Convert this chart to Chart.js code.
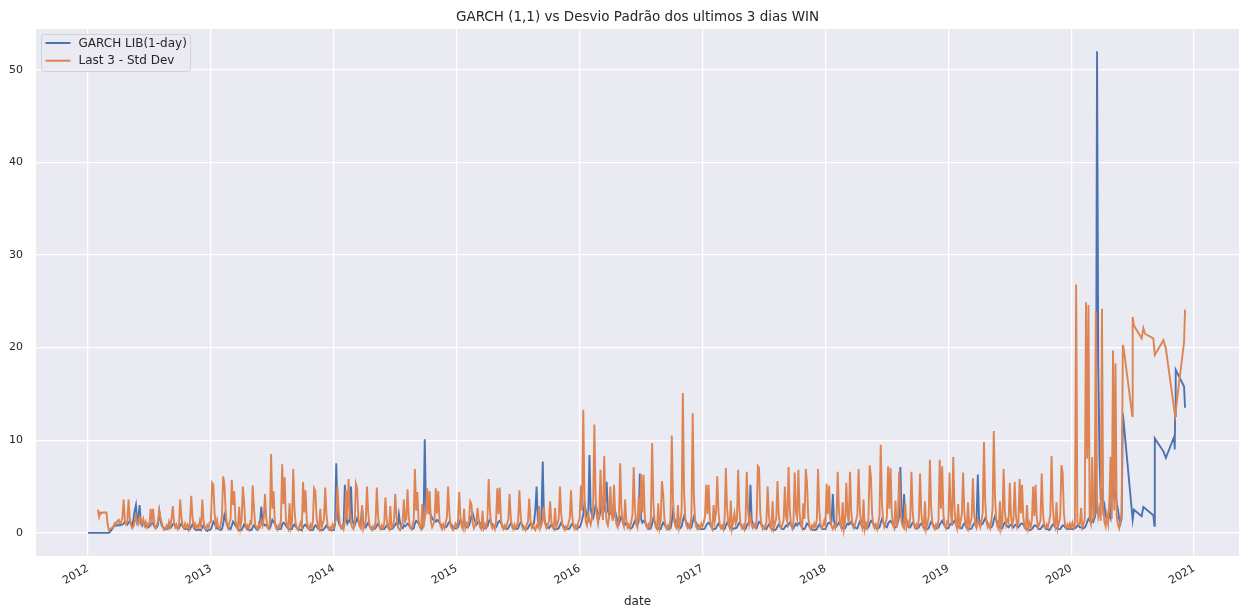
<!DOCTYPE html>
<html>
<head>
<meta charset="utf-8">
<title>GARCH (1,1) vs Desvio Padrão dos ultimos 3 dias WIN</title>
<script src="https://cdn.jsdelivr.net/npm/chart.js@4.4.1/dist/chart.umd.min.js"></script>
<style>
  html, body { margin: 0; padding: 0; background: #ffffff; overflow: hidden; }
  canvas { display: block; }
</style>
</head>
<body>
<canvas id="chart" width="1239" height="609"></canvas>
<script>
// Observations every 1/100 of a year starting on Jan 1 of each year.
const years = [2012, 2013, 2014, 2015, 2016, 2017, 2018, 2019, 2020];
const xTicks = [2012, 2013, 2014, 2015, 2016, 2017, 2018, 2019, 2020, 2021];
const yTicks = [0, 10, 20, 30, 40, 50];

// GARCH LIB(1-day)
const garch2012 = [
  0,0,0,0,0,0,0,0,0,0,
  0,0,0,0,0,0,0,0,0.1,0.3,
  0.5,0.7,0.8,0.8,0.8,0.9,0.8,0.9,0.9,1.0,
  1.2,1.0,0.9,1.1,1.3,1.0,0.8,1.5,2.4,3.0,
  1.2,1.6,3.0,1.1,0.8,1.2,0.9,0.7,0.8,0.6,
  0.7,0.9,1.1,1.0,0.7,0.5,0.6,0.9,2.3,1.4,
  0.8,0.6,0.5,0.5,0.4,0.5,0.6,0.5,0.7,0.9,
  1.0,0.8,0.6,0.5,0.5,0.8,1.0,0.7,0.5,0.4,
  0.5,0.4,0.3,0.4,0.7,0.9,0.6,0.4,0.3,0.3,
  0.4,0.3,0.3,0.6,0.8,0.5,0.3,0.2,0.3,0.3
];
const garch2013 = [
  0.4,0.8,1.2,1.0,0.7,0.5,0.4,0.4,0.3,0.4,
  1.0,1.9,1.4,0.9,0.6,0.5,0.4,0.8,1.2,1.0,
  0.8,0.6,0.4,0.3,0.3,0.3,0.6,0.9,0.7,0.5,
  0.4,0.3,0.3,0.3,0.6,0.8,0.6,0.4,0.3,0.5,
  1.2,2.8,1.3,0.9,0.8,0.9,0.7,0.5,0.5,0.9,
  1.4,1.2,1.0,0.7,0.5,0.4,0.4,0.4,0.9,1.1,
  1.0,0.8,0.6,0.5,0.4,0.4,0.4,0.8,0.9,0.7,
  0.5,0.4,0.4,0.3,0.3,0.6,0.8,0.9,0.7,0.5,
  0.4,0.3,0.3,0.3,0.6,0.8,0.7,0.5,0.4,0.3,
  0.3,0.3,0.4,0.6,0.8,0.6,0.4,0.3,0.3,0.3
];
const garch2014 = [
  0.3,0.9,7.5,2.0,1.1,0.8,0.6,0.5,0.8,5.2,
  1.5,1.0,1.3,1.2,5.0,1.4,1.0,0.8,1.2,1.6,
  1.2,0.9,1.1,2.7,1.1,0.8,0.6,0.9,1.1,0.8,
  0.6,0.5,0.4,0.4,0.5,0.8,1.0,0.7,0.5,0.4,
  0.4,0.4,0.6,0.8,0.6,0.5,0.4,0.4,0.5,0.7,
  0.9,1.1,0.8,2.0,1.0,0.6,0.5,0.8,0.7,0.8,
  1.0,0.9,0.6,0.5,0.4,0.5,1.0,1.3,1.2,1.0,
  0.8,0.6,0.5,0.9,10.1,2.4,2.9,2.6,2.2,1.9,
  1.6,1.4,1.3,1.2,1.4,1.3,1.1,0.9,0.8,0.7,
  0.7,0.6,0.7,1.0,1.2,1.0,0.8,0.6,0.5,0.5
];
const garch2015 = [
  0.5,0.6,1.0,1.4,1.2,1.0,0.8,0.7,0.6,0.6,
  0.8,1.2,1.8,2.1,1.6,1.2,0.9,1.1,1.3,1.0,
  0.8,0.6,0.5,0.5,0.6,0.7,1.2,1.4,1.1,0.9,
  0.7,0.6,0.6,0.9,1.2,1.3,1.1,0.8,0.6,0.5,
  0.4,0.4,0.5,0.8,1.0,0.8,0.6,0.5,0.4,0.4,
  0.5,0.9,1.1,0.9,0.7,0.5,0.4,0.4,0.5,0.8,
  1.0,0.8,0.6,1.2,2.5,5.0,1.4,1.0,0.8,2.0,
  7.7,1.6,1.1,0.8,0.6,0.5,0.7,0.9,0.7,0.5,
  0.4,0.4,0.4,0.5,0.8,1.1,0.9,0.7,0.5,0.4,
  0.4,0.4,0.5,0.8,1.0,0.8,0.6,0.5,0.4,0.6
];
const garch2016 = [
  0.6,0.9,1.4,2.0,3.2,2.4,1.8,1.5,8.4,2.6,
  1.9,1.6,2.2,3.0,2.5,2.0,1.7,2.4,3.7,3.1,
  2.6,3.3,5.5,2.4,1.9,2.2,2.0,1.6,1.8,2.3,
  1.7,1.3,1.0,1.4,1.8,1.4,1.1,0.9,1.1,0.8,
  0.6,0.5,0.5,0.6,1.0,1.3,1.0,0.8,1.2,6.4,
  1.5,1.1,1.3,1.2,0.9,0.7,0.5,0.4,0.5,1.0,
  1.6,1.2,0.9,0.7,0.5,0.4,0.4,0.8,1.1,0.9,
  0.7,0.5,0.4,0.4,0.5,1.2,2.4,1.6,1.2,0.9,
  0.7,0.6,0.5,0.7,1.3,1.8,1.4,1.1,0.8,0.6,
  0.5,0.6,1.2,1.7,1.3,1.0,0.7,0.5,0.4,0.4
];
const garch2017 = [
  0.4,0.4,0.5,0.8,1.0,1.1,0.9,0.7,0.5,0.4,
  0.4,0.5,0.8,1.0,0.8,0.6,0.5,0.4,0.4,0.8,
  1.1,0.9,0.7,0.5,0.4,0.4,0.5,0.5,0.6,0.9,
  1.1,0.9,0.7,0.5,0.4,0.4,0.8,1.0,1.2,5.2,
  1.4,1.0,0.8,0.6,0.5,0.9,1.2,1.1,0.9,0.7,
  0.5,0.4,0.4,0.7,0.9,0.7,0.5,0.4,0.3,0.3,
  0.4,0.7,0.9,0.7,0.5,0.4,0.4,0.6,0.8,0.7,
  0.9,1.1,0.9,0.6,0.5,0.8,1.0,0.8,1.0,1.1,
  0.8,0.6,0.4,0.4,0.7,1.0,0.9,0.7,0.5,0.4,
  0.3,0.3,0.3,0.4,0.7,0.9,0.7,0.5,0.4,0.4
];
const garch2018 = [
  0.4,0.7,1.0,1.1,1.0,1.2,4.2,1.3,0.9,0.7,
  0.9,1.1,0.9,0.7,0.5,0.5,0.5,0.8,1.0,0.9,
  1.0,1.2,1.0,0.8,0.6,0.5,0.5,0.9,1.2,1.0,
  0.8,0.6,0.5,0.5,0.5,0.6,1.0,1.3,1.2,1.0,
  0.8,0.6,0.5,0.5,0.6,1.1,1.5,1.2,0.9,0.7,
  0.6,1.0,1.2,1.3,1.1,0.9,0.7,0.6,0.7,1.2,
  1.8,7.1,1.6,1.2,4.2,1.3,1.0,0.8,0.6,0.6,
  0.9,1.1,0.9,0.7,0.5,0.5,0.6,0.9,1.0,0.8,
  0.6,0.5,0.4,0.4,0.5,0.9,1.2,1.0,0.8,0.6,
  0.5,0.5,0.6,0.9,1.1,1.3,1.0,0.8,0.6,0.5
];
const garch2019 = [
  0.5,0.8,1.0,0.9,1.1,1.3,1.1,0.9,0.7,0.6,
  0.5,0.5,0.8,1.0,0.8,0.6,0.5,0.4,0.4,0.5,
  0.8,1.0,0.9,1.6,6.3,1.5,1.1,0.9,1.0,1.3,
  1.6,1.3,1.0,0.8,0.6,0.6,0.8,1.4,1.8,1.4,
  1.1,0.8,0.6,0.5,0.5,0.9,1.1,0.9,0.7,0.6,
  0.8,0.9,0.7,0.6,0.8,0.9,0.7,0.6,0.8,1.0,
  1.0,0.9,0.7,0.5,0.4,0.4,0.3,0.3,0.4,0.6,
  0.8,0.8,0.7,0.5,0.4,0.4,0.6,0.8,0.7,0.5,
  0.4,0.4,0.3,0.4,0.7,0.9,0.8,0.6,0.5,0.4,
  0.4,0.4,0.6,0.8,0.8,0.6,0.5,0.4,0.4,0.5
];
const garch2020 = [
  0.4,0.4,0.5,0.5,0.6,0.8,0.7,0.6,0.6,0.5,
  0.5,0.6,0.8,1.2,1.5,1.3,1.1,1.4,1.2,1.6,
  2.2,52.0,18.3,8.0,3.5,4.8,2.5,3.0,1.8,1.5,
  1.4,2.0,1.6,4.5,5.0,3.8,4.3,3.2,2.5,1.5,
  1.0,1.6,12.9
];
// Sparse observations in the second half of 2020
const garchTailDates = [2020.50, 2020.51, 2020.573, 2020.587, 2020.668, 2020.677, 2020.68, 2020.75, 2020.77, 2020.838, 2020.842, 2020.845, 2020.85, 2020.918, 2020.926];
const garchTail = [1.4, 2.5, 1.8, 2.8, 1.9, 0.75, 10.2, 8.8, 8.1, 10.4, 9.0, 12.6, 17.6, 15.8, 13.5];

// Last 3 - Std Dev
const std2012 = [
  null,null,null,null,null,null,null,null,2.5,1.7,
  2.2,2.1,2.2,2.2,2.2,2.2,0.9,0.3,0.4,0.5,
  0.6,0.8,1.1,1.0,1.3,1.4,1.0,1.2,1.6,3.6,
  1.4,0.9,1.2,3.6,1.5,0.8,0.5,0.7,1.2,1.8,
  1.1,0.9,1.7,1.4,1.0,1.5,0.8,1.2,0.6,1.0,
  0.9,2.6,1.4,2.6,0.9,0.5,0.8,1.3,2.4,1.6,
  1.1,0.6,0.3,0.4,0.8,0.5,1.2,0.7,1.5,2.9,
  1.2,0.6,0.9,0.4,0.7,3.6,1.7,0.8,0.5,1.0,
  0.6,0.9,0.4,1.1,4.0,1.8,0.7,1.0,0.5,0.8,
  0.6,1.3,0.7,3.6,1.4,0.6,0.4,0.8,0.5,1.1
];
const std2013 = [
  1.2,5.4,5.2,2.1,0.8,1.4,0.6,0.4,0.9,1.8,
  6.1,5.2,2.4,0.9,0.5,1.1,1.5,5.7,3.0,4.5,
  1.3,0.7,0.4,2.8,0.6,1.4,5.0,3.3,1.0,0.5,
  0.8,0.4,1.2,1.0,5.1,2.8,0.9,0.6,0.4,1.0,
  0.7,1.3,0.8,1.6,4.2,1.7,0.6,0.4,1.1,8.5,
  2.6,4.5,1.2,0.5,0.3,0.8,0.6,1.4,7.4,3.1,
  6.0,1.5,0.7,0.4,3.2,0.6,1.2,6.9,2.5,1.0,
  0.5,0.3,0.7,1.1,0.6,5.5,2.2,4.6,1.4,0.6,
  0.4,0.9,0.5,1.3,4.8,4.5,1.6,0.7,0.4,2.6,
  0.5,1.0,1.5,4.9,2.0,0.8,0.4,0.6,0.3,0.9
];
const std2014 = [
  0.6,1.1,1.5,5.0,2.3,0.9,0.5,0.8,0.4,1.2,
  4.6,1.4,5.8,2.6,1.0,0.6,0.4,1.1,5.3,4.8,
  1.6,0.7,0.5,3.0,0.4,0.8,1.3,5.0,2.2,0.8,
  0.5,0.3,0.7,0.5,1.2,4.9,1.9,0.7,0.4,0.8,
  0.5,1.0,3.8,1.5,0.6,0.4,2.9,0.5,0.7,1.3,
  4.2,1.8,0.7,0.4,0.3,0.8,1.1,3.6,1.2,1.5,
  4.7,1.7,0.6,0.4,0.8,1.4,6.9,2.4,4.4,1.3,
  0.6,0.4,3.1,0.6,1.5,2.3,4.8,2.0,4.5,1.2,
  0.6,0.9,1.4,4.8,2.1,4.5,1.3,0.7,0.4,0.9,
  0.5,1.1,1.7,5.0,2.2,0.8,0.5,0.3,0.7,1.0
];
const std2015 = [
  0.6,1.2,4.4,1.8,0.7,0.4,2.6,0.5,1.0,0.7,
  1.4,3.4,3.1,1.1,0.5,0.8,1.3,2.7,1.2,0.6,
  0.4,2.4,0.5,0.9,0.6,1.5,5.8,2.5,0.9,0.5,
  0.8,0.4,1.2,4.8,2.0,4.9,1.5,0.6,0.4,0.8,
  0.5,1.0,1.4,4.2,1.6,0.7,0.4,0.9,0.5,0.8,
  1.3,4.6,1.9,0.8,0.4,0.6,0.3,0.9,1.2,3.7,
  1.4,0.6,0.9,0.5,0.3,0.8,0.6,2.9,0.5,0.9,
  1.3,2.8,1.0,0.5,0.8,1.2,3.4,1.3,0.6,0.4,
  2.7,0.6,1.0,1.5,5.0,2.1,0.8,0.5,0.3,0.7,
  0.5,1.1,1.6,4.6,1.8,0.7,0.4,0.8,0.5,1.2
];
const std2016 = [
  1.5,5.1,2.4,13.3,3.5,1.2,0.8,2.0,1.4,0.9,
  1.6,2.8,11.7,4.0,1.8,1.0,2.2,6.8,2.5,1.4,
  8.3,3.0,1.2,0.8,1.7,5.0,2.1,1.3,5.2,1.8,
  0.9,0.6,1.5,7.5,2.7,1.1,0.7,3.6,1.4,0.6,
  0.9,0.5,1.2,1.9,7.1,2.6,1.0,0.6,3.8,1.5,
  6.3,2.2,6.3,1.8,0.8,0.5,0.9,0.6,1.7,9.7,
  3.3,1.2,0.6,0.4,3.2,0.6,1.4,5.6,4.2,1.5,
  0.7,0.4,0.8,0.5,1.6,10.5,3.6,1.3,0.7,0.5,
  3.0,0.6,1.3,2.4,15.1,4.4,1.5,0.8,0.5,0.9,
  0.6,1.8,12.9,3.9,1.3,0.6,0.4,0.8,0.5,1.0
];
const std2017 = [
  0.7,1.1,1.8,5.2,2.0,5.2,1.6,0.7,0.4,3.0,
  1.3,2.2,6.1,2.3,0.9,0.5,0.8,0.4,1.5,7.0,
  2.6,1.0,0.6,3.5,0.5,1.2,2.1,1.0,1.4,6.8,
  2.4,0.9,0.5,0.8,0.4,1.3,6.6,2.5,1.0,1.8,
  0.8,0.5,0.9,0.6,1.4,7.2,7.0,2.1,0.8,0.4,
  0.7,0.5,1.2,5.0,1.9,0.7,0.4,3.4,0.5,1.0,
  1.6,5.6,2.0,0.8,0.5,0.9,1.4,5.0,1.7,1.2,
  7.1,2.5,0.9,0.5,1.3,6.5,2.3,1.6,6.8,2.2,
  0.8,0.5,3.2,1.5,6.9,5.5,1.8,0.7,0.4,0.8,
  0.5,1.0,0.6,1.4,6.9,2.4,0.9,0.5,0.8,1.3
];
const std2018 = [
  0.8,5.3,2.0,5.1,1.5,0.7,0.4,0.8,0.5,1.3,
  6.6,2.4,0.9,0.5,3.3,0.4,1.2,5.4,1.9,1.1,
  6.6,2.3,0.8,0.5,0.9,1.4,2.0,6.9,2.5,0.9,
  0.5,3.6,0.4,1.0,0.6,1.6,7.3,6.1,2.0,0.8,
  0.5,0.9,0.4,1.1,1.8,9.5,3.2,1.2,0.6,1.0,
  1.7,7.2,2.6,7.0,2.2,0.8,0.5,3.5,0.6,1.5,
  6.6,2.8,1.1,0.7,0.5,3.2,0.6,1.2,0.8,1.6,
  6.6,2.3,0.8,0.5,0.9,0.6,1.5,6.4,2.2,0.8,
  0.5,3.4,0.4,1.0,1.7,7.9,2.8,1.0,0.6,0.4,
  0.9,0.6,1.4,7.9,2.6,7.2,2.0,0.8,0.5,1.2
];
const std2019 = [
  1.0,6.5,2.2,0.9,8.2,2.8,1.0,0.5,3.1,0.4,
  1.3,2.0,6.5,2.3,0.8,0.5,3.3,0.6,1.1,1.7,
  5.9,2.1,0.8,0.5,1.4,1.0,0.6,1.3,2.2,9.8,
  3.4,1.2,0.6,0.9,0.5,1.4,2.5,11.0,3.8,1.3,
  0.7,0.4,3.4,0.5,1.2,6.9,2.4,0.9,1.4,1.1,
  5.4,1.9,0.8,1.5,5.5,1.9,0.7,1.2,5.8,2.1,
  5.2,1.7,0.6,0.4,3.0,0.5,1.1,0.6,1.4,5.0,
  1.8,5.2,1.6,0.6,0.9,1.4,6.4,2.2,0.8,0.5,
  0.9,0.6,1.2,2.0,8.3,2.9,1.0,0.6,3.3,0.5,
  1.1,1.6,7.3,6.5,2.2,0.8,0.5,0.9,0.6,1.0
];
const std2020 = [
  0.6,1.1,0.5,0.9,26.8,1.2,0.8,0.9,2.7,0.6,
  1.0,1.4,24.9,8.0,24.6,1.5,1.0,8.2,1.6,2.0,
  23.9,3.5,1.8,2.6,1.3,24.2,2.8,1.2,0.7,1.9,
  1.0,3.4,8.2,1.5,19.7,2.4,18.3,1.8,0.9,0.5,
  1.3,2.2,20.3,19.6
];
const stdTailDates = [2020.497, 2020.50, 2020.51, 2020.573, 2020.587, 2020.60, 2020.668, 2020.68, 2020.75, 2020.77, 2020.845, 2020.918, 2020.926];
const stdTail = [12.6, 23.3, 22.4, 21.0, 22.1, 21.5, 21.0, 19.2, 20.8, 19.9, 12.6, 20.6, 24.1];

const garchYears = [garch2012, garch2013, garch2014, garch2015, garch2016, garch2017, garch2018, garch2019, garch2020];
const stdYears = [std2012, std2013, std2014, std2015, std2016, std2017, std2018, std2019, std2020];

function toPoints(blocks, tailDates, tailValues) {
  const pts = [];
  blocks.forEach((vals, k) => {
    vals.forEach((v, i) => pts.push({ x: years[k] + i / 100, y: v }));
  });
  tailDates.forEach((d, i) => pts.push({ x: d, y: tailValues[i] }));
  return pts;
}

const FONT = "'DejaVu Sans', 'Liberation Sans', sans-serif";
const TEXT = '#262626';

// Seaborn-style grey panel behind the plot area
const panelBackground = {
  id: 'panelBackground',
  beforeDraw(chart) {
    const { ctx, chartArea: a } = chart;
    ctx.save();
    ctx.fillStyle = '#eaeaf2';
    ctx.fillRect(a.left, a.top, a.right - a.left, a.bottom - a.top);
    ctx.restore();
  }
};

// Framed legend in the upper-left corner of the plot area
const framedLegend = {
  id: 'framedLegend',
  afterDatasetsDraw(chart) {
    const { ctx, chartArea: a } = chart;
    const x0 = a.left + 5.5, y0 = a.top + 5.5, w = 149, h = 37, r = 3;
    ctx.save();
    ctx.beginPath();
    ctx.moveTo(x0 + r, y0);
    ctx.lineTo(x0 + w - r, y0);
    ctx.quadraticCurveTo(x0 + w, y0, x0 + w, y0 + r);
    ctx.lineTo(x0 + w, y0 + h - r);
    ctx.quadraticCurveTo(x0 + w, y0 + h, x0 + w - r, y0 + h);
    ctx.lineTo(x0 + r, y0 + h);
    ctx.quadraticCurveTo(x0, y0 + h, x0, y0 + h - r);
    ctx.lineTo(x0, y0 + r);
    ctx.quadraticCurveTo(x0, y0, x0 + r, y0);
    ctx.closePath();
    ctx.fillStyle = 'rgba(234,234,242,0.8)';
    ctx.fill();
    ctx.strokeStyle = 'rgba(204,204,204,0.8)';
    ctx.lineWidth = 1;
    ctx.stroke();
    ctx.font = '12px ' + FONT;
    ctx.textBaseline = 'middle';
    ctx.textAlign = 'left';
    chart.data.datasets.forEach((ds, i) => {
      const y = y0 + 8.5 + i * 17.7;
      ctx.beginPath();
      ctx.moveTo(x0 + 4, y);
      ctx.lineTo(x0 + 29, y);
      ctx.strokeStyle = ds.borderColor;
      ctx.lineWidth = 2;
      ctx.stroke();
      ctx.fillStyle = TEXT;
      ctx.fillText(ds.label, x0 + 37, y + 0.5);
    });
    ctx.restore();
  }
};

new Chart(document.getElementById('chart'), {
  type: 'line',
  data: {
    datasets: [
      {
        label: 'GARCH LIB(1-day)',
        data: toPoints(garchYears, garchTailDates, garchTail),
        borderColor: '#4c72b0',
        borderWidth: 1.9,
        pointRadius: 0,
        tension: 0,
        order: 1
      },
      {
        label: 'Last 3 - Std Dev',
        data: toPoints(stdYears, stdTailDates, stdTail),
        borderColor: '#dd8452',
        borderWidth: 1.9,
        pointRadius: 0,
        tension: 0,
        order: 0
      }
    ]
  },
  options: {
    responsive: false,
    animation: false,
    devicePixelRatio: 1,
    layout: { padding: 0 },
    events: [],
    plugins: {
      legend: { display: false },
      tooltip: { enabled: false },
      title: {
        display: true,
        text: 'GARCH (1,1) vs Desvio Padrão dos ultimos 3 dias WIN',
        color: TEXT,
        fullSize: false,
        font: { family: FONT, size: 13.5, weight: 'normal', lineHeight: 1.2 },
        padding: { top: 9, bottom: 3.8 }
      }
    },
    scales: {
      x: {
        type: 'linear',
        min: 2011.577,
        max: 2021.365,
        afterBuildTicks: (s) => { s.ticks = xTicks.map((v) => ({ value: v })); },
        afterFit: (s) => { s.height = 53; s.paddingLeft = 0; s.paddingRight = 0; },
        border: { display: false },
        grid: { color: '#ffffff', lineWidth: 1.3, drawTicks: false },
        ticks: {
          color: TEXT,
          font: { family: FONT, size: 11 },
          minRotation: 30,
          maxRotation: 30,
          autoSkip: false,
          padding: 6,
          callback: (v) => String(v)
        },
        title: {
          display: true,
          text: 'date',
          color: TEXT,
          font: { family: FONT, size: 12 },
          padding: { top: 0, bottom: 0 }
        }
      },
      y: {
        min: -2.5,
        max: 54.4,
        afterBuildTicks: (s) => { s.ticks = yTicks.map((v) => ({ value: v })); },
        afterFit: (s) => { s.width = 36; s.paddingTop = 0; s.paddingBottom = 0; },
        border: { display: false },
        grid: { color: '#ffffff', lineWidth: 1.3, drawTicks: false },
        ticks: {
          color: TEXT,
          font: { family: FONT, size: 11 },
          padding: 13,
          callback: (v) => String(v)
        }
      }
    }
  },
  plugins: [panelBackground, framedLegend]
});
</script>
</body>
</html>
